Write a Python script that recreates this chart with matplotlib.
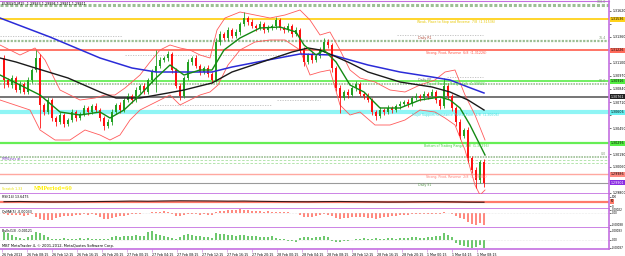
import numpy as np
import matplotlib.pyplot as plt

# ---- EURUSD M15 candles (open of each bar = previous close) ----
first_open = 1.3115
closes = [1.3093, 1.3088, 1.3095, 1.3083, 1.3089, 1.3081, 1.3093, 1.3103, 1.3115, 1.3068,
          1.3061, 1.3073, 1.3055, 1.3051, 1.3058, 1.3049, 1.3053, 1.3061, 1.3055, 1.3059,
          1.3065, 1.3061, 1.3067, 1.3063, 1.3055, 1.3047, 1.3051, 1.3061, 1.3068, 1.3063,
          1.3073, 1.3077, 1.3073, 1.3083, 1.3087, 1.3081, 1.3093, 1.3101, 1.3107, 1.3113,
          1.3115, 1.3119, 1.3103, 1.3087, 1.3077, 1.3095, 1.3111, 1.3115, 1.3107, 1.3101,
          1.3105, 1.3099, 1.3093, 1.3131, 1.3139, 1.3135, 1.3143, 1.3137, 1.3141, 1.3149,
          1.3155, 1.3151, 1.3147, 1.3145, 1.3149, 1.3143, 1.3145, 1.3147, 1.3153, 1.3145,
          1.3143, 1.3147, 1.3139, 1.3143, 1.3123, 1.3111, 1.3118, 1.3113, 1.3117, 1.3123,
          1.3131, 1.3128, 1.3105, 1.3085, 1.3075, 1.3081, 1.3078, 1.3085, 1.3089, 1.3079,
          1.3077, 1.3073, 1.3061, 1.3057, 1.3063, 1.3061, 1.3065, 1.3063, 1.3067, 1.3069,
          1.3071, 1.3069, 1.3075, 1.3077, 1.3075, 1.3079, 1.3077, 1.3081, 1.3073, 1.3067,
          1.3087, 1.3077, 1.3065, 1.3051, 1.3037, 1.3043, 1.3015, 1.3003, 1.2993, 1.3011, 1.2990]
# wick lengths in pips
upper_wick = [3, 2, 3, 2, 3, 2, 3, 2, 8, 4,  2, 3, 2, 2, 3, 2, 2, 3, 2, 2,
              3, 2, 2, 3, 2, 2, 3, 3, 2, 3,  2, 3, 2, 3, 2, 3, 2, 3, 16, 3,
              2, 3, 2, 2, 3, 2, 3, 2, 3, 2,  2, 3, 2, 4, 3, 2, 3, 2, 3, 2,
              6, 2, 3, 2, 3, 2, 3, 2, 3, 2,  2, 3, 2, 3, 2, 3, 2, 3, 2, 3,
              4, 3, 2, 2, 3, 2, 3, 2, 3, 2,  2, 3, 2, 2, 3, 2, 3, 2, 2, 3,
              2, 3, 2, 3, 2, 3, 2, 3, 2, 2,  8, 3, 2, 2, 3, 2, 3, 2, 3, 2, 3]
lower_wick = [8, 2, 3, 2, 3, 2, 2, 3, 2, 23,  3, 2, 3, 4, 2, 3, 2, 2, 3, 2,
              2, 3, 2, 2, 3, 4, 2, 3, 2, 3,  2, 2, 3, 2, 3, 2, 2, 3, 20, 2,
              2, 3, 3, 2, 4, 2, 2, 3, 2, 3,  2, 3, 3, 2, 3, 2, 3, 2, 2, 3,
              2, 3, 2, 3, 2, 3, 2, 2, 3, 2,  3, 2, 3, 2, 3, 4, 2, 3, 2, 2,
              2, 3, 4, 3, 15, 2, 3, 2, 3, 2,  3, 2, 3, 4, 2, 3, 2, 3, 2, 3,
              2, 3, 2, 2, 3, 2, 3, 2, 3, 3,  2, 3, 3, 4, 3, 2, 4, 3, 8, 3, 4]

# ---- indicator lines as (bar, price) ----
ma_blue = [(-1, 1.3155), (11.5, 1.3136), (24, 1.3115), (32, 1.3105), (38, 1.3101), (45, 1.3101),
           (52, 1.3101), (57, 1.3106), (66, 1.3113), (74, 1.3119), (82, 1.3118), (91, 1.3108),
           (99, 1.3101), (107, 1.3096), (111.5, 1.3093), (116, 1.3086), (120, 1.3080)]
ma_black = [(-1, 1.3115), (3, 1.3111), (7, 1.3106), (16, 1.3095), (24, 1.3081), (28, 1.3075),
            (34, 1.3075), (41, 1.3080), (45, 1.3083), (49, 1.3087), (52, 1.3090), (57, 1.3101),
            (66, 1.3113), (72, 1.3121), (76, 1.3125), (79, 1.3123), (82, 1.3118), (86.5, 1.3110),
            (91, 1.3101), (99, 1.3091), (107, 1.3086), (111.5, 1.3081), (116, 1.3073), (120, 1.3063)]
ma_green = [(-1, 1.3098), (4, 1.3088), (9, 1.3078), (14, 1.3061), (19, 1.3058), (24, 1.3061),
            (26.5, 1.3055), (30, 1.3063), (34, 1.3078), (38, 1.3095), (41.5, 1.3108), (45, 1.3098),
            (49, 1.3103), (52, 1.3103), (55, 1.3123), (59, 1.3135), (64, 1.3145), (69, 1.3146),
            (73, 1.3141), (75, 1.3128), (78, 1.3118), (80, 1.3123), (83, 1.3111), (86.5, 1.3088),
            (90, 1.3081), (94, 1.3065), (99, 1.3065), (104, 1.3073), (109, 1.3076), (111.5, 1.3073),
            (114, 1.3065), (116.5, 1.3048), (119, 1.3028), (120.25, 1.3018)]
bb_upper = [(-1, 1.3128), (4, 1.3118), (7.75, 1.3125), (10.25, 1.3113), (14, 1.3083), (19, 1.3073),
            (22.75, 1.3075), (25.25, 1.3078), (27.75, 1.3078), (30.25, 1.3085), (34, 1.3098),
            (36.5, 1.3111), (39, 1.3123), (41.5, 1.3128), (44, 1.3125), (46.5, 1.3123), (49, 1.3118),
            (51.5, 1.3115), (53.25, 1.3143), (55.25, 1.3155), (59, 1.3161), (62.75, 1.3158),
            (66.5, 1.3155), (70.25, 1.3158), (74, 1.3163), (76.5, 1.3153), (79, 1.3138),
            (81.5, 1.3141), (84, 1.3123), (86.5, 1.3103), (89, 1.3095), (92.75, 1.3091),
            (96.5, 1.3083), (100.25, 1.3081), (104, 1.3088), (107.75, 1.3093), (110.25, 1.3101),
            (112.75, 1.3103), (115.25, 1.3078), (117.75, 1.3058), (120.25, 1.3033)]
bb_lower = [(-1, 1.3073), (2.75, 1.3068), (6.5, 1.3063), (9, 1.3043), (12.75, 1.3033), (16.5, 1.3033),
            (20.25, 1.3043), (24, 1.3038), (26.5, 1.3033), (29, 1.3038), (31.5, 1.3053), (34, 1.3063),
            (36.5, 1.3068), (39, 1.3073), (41.5, 1.3078), (44, 1.3068), (46.5, 1.3073), (49, 1.3078),
            (51.5, 1.3081), (53.5, 1.3088), (56, 1.3108), (59, 1.3123), (62.75, 1.3131),
            (66.5, 1.3133), (70.25, 1.3133), (74, 1.3123), (76.5, 1.3098), (79, 1.3101),
            (81.5, 1.3103), (84, 1.3068), (86.5, 1.3058), (89, 1.3061), (92.75, 1.3048),
            (96.5, 1.3048), (100.25, 1.3053), (104, 1.3063), (107.75, 1.3061), (110.25, 1.3055),
            (112.75, 1.3048), (115.25, 1.3023), (117.75, 1.2988), (119, 1.2978), (120.25, 1.2983)]

# ---- Murrey math levels ----
mm_prices = [1.31536, 1.31226, 1.30916, 1.30606, 1.30296, 1.29986]
mm_names = ["Weak, Place to Stop and Reverse  7/8", "Strong, Pivot, Reverse  6/8",
            "Top of Trading Range  5/8", "Major Support/Resistance Pivotal Point  4/8",
            "Bottom of Trading Range  3/8", "Strong, Pivot, Reverse  2/8"]
# fibo levels
fib_prices = [1.3168, 1.3132, 1.3089, 1.3016]
fib_labels = ["100.0", "76.4", "50.0", "0.0"]
# previous day pivots: (start bar, end bar, price)
pivot_segments = [(-1, 29.5, 1.3137), (30.25, 72.25, 1.3118), (38.25, 67, 1.3068),
                  (68.25, 79, 1.3073), (98.25, 119.75, 1.3138), (110.75, 119.75, 1.3096)]
daily_names = ["Daily R1", "Daily PP", "Daily S1"]
daily_prices = [1.3135, 1.3093, 1.2988]
gray_level = 1.30761
bid = 1.29901

price_ticks = [1.3162, 1.3149, 1.3136, 1.3123, 1.3110, 1.3097, 1.3084, 1.3071,
               1.3058, 1.3045, 1.3032, 1.3019, 1.3006, 1.2993, 1.2980]

# ---- sub windows ----
osc_values = [48, 50, 47, 45, 46, 48, 50, 52, 55, 53, 56, 58, 57, 56, 54, 55,
              52, 50, 48, 47, 49, 50, 48, 46, 44, 45, 47, 48, 46, 43, 42]
osma = [-10, -14, -12, -18, -15, -20, -12, -8,
        -30, -45, -52, -48, -50, -40,
        -30, -25, -20, -22, -18, -15, -10, -12, -8,
        -18, -30, -42, -45, -38, -30, -25, -20, -12, -10,
        -6, -4, -2, 3, 6, 8, 10, 12, 8, -10, -20,
        -25, -15, -8, -5, -8, -12, -10, -14, -18,
        5, 12, 18, 20, 22, 24, 26, 22, 20, 18,
        15, 12, 10, 12, 8, 6, 10, 8, 4, 2, -2,
        -15, -28, -30, -26, -20, -15, -10, -12, -25,
        -38, -45, -40, -35, -30, -28, -30, -32, -35, -40, -42,
        -38, -32, -28, -24, -20, -18, -15, -12, -10, -8, -6, -5, -4, -6, -8,
        -10, 5, 2, -5,
        -20, -40, -45, -65, -80, -88, -75, -85]
bulls = [70, 60, 40, 20, 15, 10, 25, 45,
         75, 65, 40, 20, 10, 5,
         8, 12, 10, 5, 8, 15, 10, 12, 8,
         5, 3, 8, 10, 25, 30, 28, 35, 30, 32,
         40, 35, 38, 70, 85, 50, 40, 30, 25, 15, 10,
         20, 45, 55, 40, 35, 30, 25, 20, 15,
         60, 55, 50, 45, 40, 35, 45, 40, 30, 35,
         30, 25, 20, 25, 30, 15, 10, 5, -10, -15, -20,
         15, 20, 25, 18, 22, 25, 30, 20, -10,
         -20, -25, -15, -10, -5, 5, 10, 12, 10, 8, 15,
         10, 8, 12, 15, 10, 12, 15, 18, 20, 22, 18, 15, 20, 25, 30,
         35, 60, 45, 20,
         -30, -50, -60, -75, -85, -70, -55, -80]

time_labels = ["26 Feb 2013", "26 Feb 08:15", "26 Feb 12:15", "26 Feb 16:15", "26 Feb 20:15",
               "27 Feb 00:15", "27 Feb 04:15", "27 Feb 08:15", "27 Feb 12:15", "27 Feb 16:15",
               "27 Feb 20:15", "28 Feb 00:15", "28 Feb 04:15", "28 Feb 08:15", "28 Feb 12:15",
               "28 Feb 16:15", "28 Feb 20:15", "1 Mar 00:15", "1 Mar 04:15", "1 Mar 08:15"]

SEP = '#c46ee0'
UP, DOWN = '#22a022', '#ff1010'
FS = 2.3
FS_SUB = 2.0

W, H = 625, 256
fig = plt.figure(figsize=(W / 100, H / 100), dpi=100)
fig.patch.set_facecolor('white')


def panel(top, bottom, fs=FS):
    ax = fig.add_axes([0, 1 - bottom / H, 609 / W, (bottom - top) / H])
    ax.set_xlim(-1, 151.25)
    ax.spines['top'].set_visible(False)
    ax.spines['left'].set_visible(False)
    for s in ('bottom', 'right'):
        ax.spines[s].set_color(SEP)
        ax.spines[s].set_linewidth(1.2)
    ax.yaxis.tick_right()
    ax.tick_params(axis='y', labelsize=fs, length=1.5, width=0.4, pad=0.8)
    ax.tick_params(axis='x', bottom=False, labelbottom=False)
    return ax


def tag(ax, y, text, bg, fg='black', fs=FS):
    ax.text(1.003, y, text, transform=ax.get_yaxis_transform(), fontsize=fs,
            ha='left', va='center', color=fg, zorder=10, clip_on=False,
            bbox=dict(boxstyle='square,pad=0.15', fc=bg, ec='none'))


# ---------------- main window ----------------
ax = panel(1, 194)
ax.spines['top'].set_visible(True)
ax.spines['top'].set_color(SEP)
ax.set_ylim(1.2979, 1.3172)

tag_prices = mm_prices + [gray_level, bid]
ax.set_yticks(price_ticks)
# tick labels hidden where a price tag sits on top of them
ax.set_yticklabels(['' if min(abs(p - t) for t in tag_prices) < 0.0005 else f"{p:.5f}"
                    for p in price_ticks])

# fibo lines
for p, lab, lw in zip(fib_prices, fib_labels, [2.2, 1.6, 1.2, 1.2]):
    ax.axhline(p, color='#9cbf94', lw=lw, ls=(0, (1, 0.6)), zorder=1)
    ax.text(150.6, p + 0.00012, lab, fontsize=FS, color='#7a9a72', ha='right', va='bottom')

# murrey lines
mm_colors = ['#ffd21a', '#ff6a5a', '#66ee55', '#8ff5f5', '#66ee55', '#ffa8a0']
mm_text_colors = ['#e8c800', '#ff5040', '#4ccc44', '#40dede', '#4ccc44', '#ff7a70']
mm_widths = [1.3, 1.3, 1.3, 3.0, 1.6, 1.0]
for p, name, col, tcol, lw in zip(mm_prices, mm_names, mm_colors, mm_text_colors, mm_widths):
    ax.axhline(p, color=col, lw=lw, zorder=1)
    ax.text(113, p - 0.0003, f"{name}  ({p:.5f})", fontsize=FS, color=tcol,
            ha='center', va='center', zorder=9)

ax.axhline(1.3013, color='#a8e0a0', lw=0.6, ls=(0, (3, 2)), zorder=1)
ax.axhline(1.3010, color='#a8e0a0', lw=0.6, ls=(0, (3, 2)), zorder=1)
ax.axhline(gray_level, color='#6a6a6a', lw=1.3, zorder=1)
ax.axhline(bid, color='#9a9a9a', lw=0.8, zorder=1)

for x0, x1, p in pivot_segments:
    ax.hlines(p, x0, x1, color='#bdbdbd', lw=0.6, ls=(0, (1.5, 1.5)), zorder=1)
for name, p, col in zip(daily_names, daily_prices, ['#b04a3a', '#707070', '#5a9a50']):
    ax.text(103.5, p, name, fontsize=FS, color=col, ha='left', va='center', zorder=9)

# bands and averages
ax.plot(*zip(*bb_upper), color='#ff5a5a', lw=0.6, zorder=3)
ax.plot(*zip(*bb_lower), color='#ff5a5a', lw=0.6, zorder=3)
ax.plot(*zip(*ma_blue), color='#2b2bd8', lw=1.1, zorder=6)
ax.plot(*zip(*ma_black), color='#1a1a1a', lw=1.0, zorder=6)
ax.plot(*zip(*ma_green), color='#138a13', lw=1.0, zorder=7)

# candles
c = np.array(closes)
o = np.array([first_open] + closes[:-1])
hi = np.maximum(o, c) + np.array(upper_wick) * 1e-4
lo = np.minimum(o, c) - np.array(lower_wick) * 1e-4
bars = np.arange(len(c))
cols = np.where(c >= o, UP, DOWN)
ax.vlines(bars, lo, hi, colors=cols, lw=0.6, zorder=4)
ax.bar(bars, c - o, bottom=o, width=0.65, color=cols, lw=0, zorder=5)

# price tags on the right axis
tag(ax, mm_prices[0], f"{mm_prices[0]:.5f}", '#ffd21a')
tag(ax, mm_prices[1], f"{mm_prices[1]:.5f}", '#ff6a5a')
tag(ax, mm_prices[2], f"{mm_prices[2]:.5f}", '#55ee44')
tag(ax, gray_level, f"{gray_level:.5f}", '#202020', 'white')
tag(ax, mm_prices[3], f"{mm_prices[3]:.5f}", '#66f0f0')
tag(ax, mm_prices[4], f"{mm_prices[4]:.5f}", '#55ee44')
tag(ax, mm_prices[5], f"{mm_prices[5]:.5f}", '#ff8a80')
tag(ax, bid, f"{bid:.5f}", '#8a2be2', 'white')

ax.text(0.003, 0.995, "EURUSD,M15  1.29933 1.29994 1.29911 1.29911", transform=ax.transAxes,
        fontsize=2.4, color='black', ha='left', va='top')
ax.text(-0.6, 1.3014, "MMLines at", fontsize=FS, color='#7a3cc0', ha='left', va='center')
ax.text(-0.6, 1.29845, "Scratch 1.33", fontsize=FS, color='#e8e000', ha='left', va='center')
ax.text(7.5, 1.29845, "MMPeriod=60", fontsize=3.4, color='#ffee00', fontweight='bold',
        family='DejaVu Serif', ha='left', va='center')

# ---------------- sub window 1 ----------------
a1 = panel(194, 209, FS_SUB)
a1.set_ylim(-33, 133)
a1.set_yticks([100, 0])
a1.set_yticklabels(["100", "0"])
a1.axhline(50, color='#ff7a6a', lw=1.6)
a1.plot(np.arange(0, 121, 4), osc_values, color='#3a1a1a', lw=0.8)
tag(a1, 50, "50", '#ff7a6a', fs=FS_SUB)
a1.text(0.003, 0.93, "RSI(14) 13.6475", transform=a1.transAxes, fontsize=FS, ha='left', va='top')

# ---------------- sub window 2 ----------------
a2 = panel(209, 228, FS_SUB)
a2.set_ylim(-0.0011, 0.00029)
a2.set_yticks([0.00022, 0.0, -0.00088])
a2.set_yticklabels(["0.00022", "0.00", "-0.00088"])
a2.axhline(0, color='#d8d8d8', lw=0.4, ls=':')
a2.bar(bars, np.array(osma) * 1e-5, width=0.5, color='#ff8a80', lw=0)
a2.text(0.003, 0.93, "OsMA(5) -0.00033", transform=a2.transAxes, fontsize=FS, ha='left', va='top')

# ---------------- sub window 3 ----------------
a3 = panel(228, 249, FS_SUB)
a3.set_ylim(-0.0009, 0.0011)
a3.set_yticks([0.00083, 0.0, -0.00080])
a3.set_yticklabels(["0.00083", "0.00", "-0.00087"])
a3.axhline(0, color='#d8d8d8', lw=0.4, ls=':')
a3.bar(bars, np.array(bulls) * 1e-5, width=0.5, color='#6ec86e', lw=0)
a3.text(0.003, 0.93, "Bulls(13) -0.00121", transform=a3.transAxes, fontsize=FS, ha='left', va='top')
a3.text(0.003, 0.05, "MBT MetaTrader 4, \u00a9 2001-2012, MetaQuotes Software Corp.",
        transform=a3.transAxes, fontsize=2.6, ha='left', va='bottom')

a3.set_xticks([-0.5 + 6.25 * k for k in range(len(time_labels))])
a3.set_xticklabels(time_labels)
a3.tick_params(axis='x', bottom=True, labelbottom=True, length=2, width=0.4,
               color=SEP, labelsize=FS, pad=0.8)
for t in a3.get_xticklabels():
    t.set_ha('left')

fig.savefig('out.png', dpi=100, facecolor='white')
